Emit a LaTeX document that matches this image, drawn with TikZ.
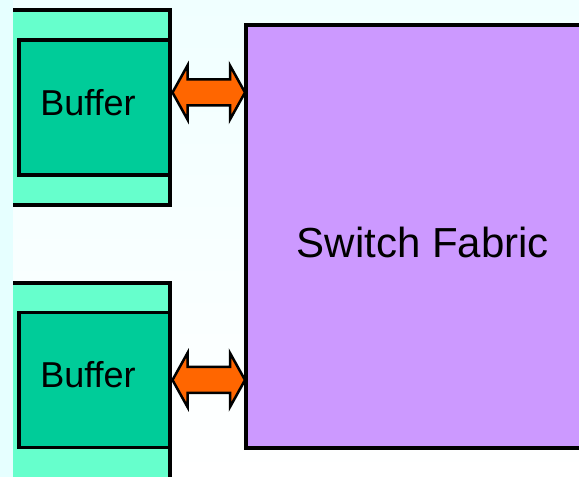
\documentclass[tikz,border=0pt]{standalone}
\usepackage{fontspec}
\setmainfont{Liberation Sans}
\usetikzlibrary{calc}
\definecolor{slotgreen}{RGB}{102,255,204}
\definecolor{buffergreen}{RGB}{0,204,153}
\definecolor{fabricpurple}{RGB}{204,153,255}
\definecolor{linkorange}{RGB}{255,102,0}
\definecolor{bgcyan}{RGB}{240,255,255}
\definecolor{stripcyan}{RGB}{230,255,255}

\begin{document}
\begin{tikzpicture}[x=1pt, y=1pt,
    box/.style={draw=black, line width=3.5pt, rectangle, inner sep=0pt, outer sep=0pt},
    slot/.style={box, fill=slotgreen, minimum width=190, minimum height=#1},
    buffer/.style={box, fill=buffergreen, minimum width=151, minimum height=135},
    fabricbox/.style={box, fill=fabricpurple, minimum width=354, minimum height=423},
    buflabel/.style={font=\fontsize{36}{40}\selectfont},
    fablabel/.style={font=\fontsize{42}{46}\selectfont},
    linkarrow/.style={fill=linkorange, draw=black, line width=2.5pt, line join=miter}]

  \clip (0,0) rectangle (579,477);

  % ---------- background ----------
  \shade[top color=bgcyan, bottom color=white] (0,0) rectangle (579,477);

  % ---------- input slots ----------
  \node[slot=195] (slotA) at (75,369.5) {};
  \node[slot=204] (slotB) at (75,92) {};
  \fill[stripcyan] (0,0) rectangle (13,477);

  % ---------- buffers ----------
  \node[buffer] (bufA) at (94.5,369.5) {};
  \node[buflabel] at ([shift={(-6.5,4.5)}]bufA.center) {Buffer};
  \node[buffer] (bufB) at (94.5,97) {};
  \node[buflabel] at ([shift={(-6.5,5.5)}]bufB.center) {Buffer};

  % ---------- switch fabric ----------
  \node[fabricbox] (fabric) at (423,240.5) {};
  \node[fablabel] at ([yshift=-5.5]fabric.center) {Switch Fabric};

  % ---------- links ----------
  \coordinate (portA) at (170,384.5);
  \coordinate (portB) at (170,97);
  \foreach \port in {portA, portB} {
    \draw[linkarrow] let \p1=($(\port)+(2.5,0)$), \p2=($(fabric.west |- \port)+(-1,0)$) in
      (\p1) -- (\x1+15pt,\y1+27pt) -- (\x1+15pt,\y1+13pt) -- (\x2-15pt,\y1+13pt)
      -- (\x2-15pt,\y1+27pt) -- (\p2) -- (\x2-15pt,\y1-27pt) -- (\x2-15pt,\y1-13pt)
      -- (\x1+15pt,\y1-13pt) -- (\x1+15pt,\y1-27pt) -- cycle;
  }

\end{tikzpicture}
\end{document}
